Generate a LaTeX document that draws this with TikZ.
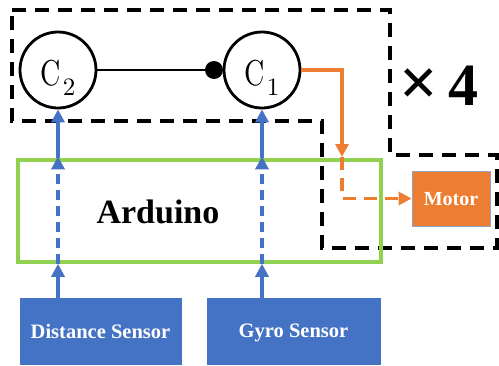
\documentclass[tikz,border=0pt]{standalone}
\usepackage{fontspec}
\setmainfont{Liberation Serif}
\newfontfamily\lmten{lmroman10-regular.otf}
\usetikzlibrary{arrows.meta}
\definecolor{myblue}{HTML}{4472C4}
\definecolor{myorange}{HTML}{ED7D31}
\definecolor{mygreen}{HTML}{92D050}
\definecolor{myedge}{HTML}{8EA2C8}
\newcommand{\lmC}[1]{{\lmten\scalebox{0.78}[1]{\fontsize{36}{36}\selectfont C}\hspace{2pt}\raisebox{-10pt}{\fontsize{25}{25}\selectfont #1}}}
\begin{document}
\begin{tikzpicture}[x=1pt,y=-1pt,
  blk/.style={draw=black,line width=3.6pt,dash pattern=on 14pt off 9pt},
  circ/.style={draw=black,circle,line width=2.8pt,minimum size=76pt,inner sep=0pt,text height=32pt,text depth=2pt},
  barr/.style={draw=myblue,line width=4pt,-{Triangle[length=13pt,width=13pt]}},
  bdash/.style={barr,dash pattern=on 10pt off 6pt},
  oarr/.style={draw=myorange,line width=3.6pt,-{Triangle[length=13pt,width=13pt]}},
  odash/.style={oarr,dash pattern=on 13pt off 8pt},
  sensor/.style={fill=myblue,draw=myblue,line width=0.6pt,text=white,font=\fontsize{20.5}{20.5}\selectfont\bfseries,inner sep=0pt,text depth=0pt},
]
\useasboundingbox (0,0) rectangle (499,365);
% dashed repeated group
\draw[blk] (12,10) -- (390,10) -- (390,155) -- (497,155) -- (497,248) -- (322,248) -- (322,121) -- (12,121) -- cycle;
% nodes
\node[circ] (c2) at (58,70) {\lmC{2}};
\node[circ] (c1) at (262,70) {\lmC{1}};
\node[fill=black,circle,minimum size=18pt,inner sep=0pt] (dot) at (214,70) {};
\node[draw=mygreen,line width=3.6pt,minimum width=363pt,minimum height=102pt,inner sep=0pt] (ard) at (199.5,211) {};
\node[anchor=base,font=\fontsize{34}{34}\selectfont\bfseries] (ardtxt) at (158,223) {Arduino};
\node[sensor,minimum width=161pt,minimum height=66pt] (ds) at (100.5,331) {Distance Sensor};
\node[sensor,minimum width=173pt,minimum height=66pt] (gs) at (293.5,331) {Gyro Sensor};
\node[fill=myorange,draw=myedge,line width=0.8pt,minimum width=78pt,minimum height=55pt,inner sep=0pt,text=white,font=\fontsize{20}{20}\selectfont\bfseries,text depth=0pt] (motor) at (451,198.5) {Motor};
\node[anchor=base,font=\fontsize{60}{60}\selectfont\bfseries,inner sep=0pt] (times) at (439,105) {{\fontsize{68}{68}\selectfont ×}\,4};
% connectors
\draw[line width=2.6pt] (c2) -- (dot);
\draw[barr] (c2 |- ds.north) -- (c2 |- ard.south);
\draw[bdash] (c2 |- ard.south) -- ([yshift=1.8pt]c2 |- ard.north);
\draw[barr] (c2 |- ard.north) -- (c2.south);
\draw[barr] (c1 |- gs.north) -- (c1 |- ard.south);
\draw[bdash] (c1 |- ard.south) -- ([yshift=1.8pt]c1 |- ard.north);
\draw[barr] (c1 |- ard.north) -- (c1.south);
\coordinate (ob) at (342,157);
\draw[oarr] (c1.east) -| (ob);
\draw[odash] (ob) |- (motor.west);
\end{tikzpicture}
\end{document}
